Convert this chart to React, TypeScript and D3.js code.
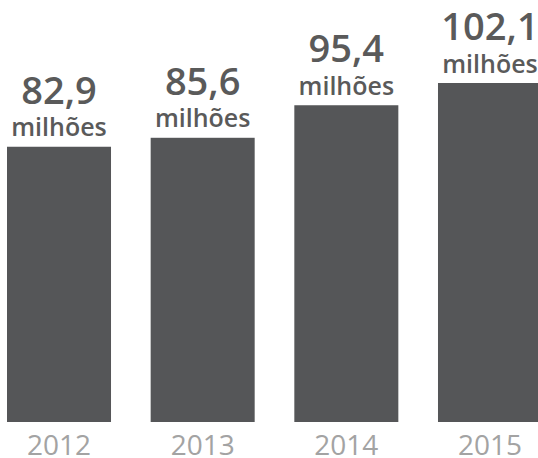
import React from "react";
import * as d3 from "d3";

const years = ["2012", "2013", "2014", "2015"];
const values = [82.9, 85.6, 95.4, 102.1];
const valueLabels = ["82,9", "85,6", "95,4", "102,1"];
const unitLabel = "milhões";

const W = 538;
const H = 458;

export default function App() {
  const x = d3
    .scaleBand<string>()
    .domain(years)
    .range([7, 542])
    .paddingInner(0.276)
    .paddingOuter(0);
  const y = d3.scaleLinear().domain([0, 102.1]).range([422, 83]);
  const font = "'Open Sans', 'Noto Sans', sans-serif";

  return (
    <svg
      width={W}
      height={H}
      style={{ position: "absolute", left: 0, top: 0, background: "#fff" }}
    >
      {years.map((yr, i) => {
        const x0 = x(yr)!;
        const bw = x.bandwidth();
        const cx = x0 + bw / 2;
        const top = y(values[i]);
        return (
          <g key={yr}>
            <rect x={x0} y={top} width={bw} height={y(0) - top} fill="#555658" />
            <text
              x={cx}
              y={top - 43}
              textAnchor="middle"
              fontFamily={font}
              fontWeight={600}
              fontSize={38}
              fill="#5a5a5a"
            >
              {valueLabels[i]}
            </text>
            <text
              x={cx}
              y={top - 10.5}
              textAnchor="middle"
              fontFamily={font}
              fontWeight={600}
              fontSize={25}
              fill="#5a5a5a"
            >
              {unitLabel}
            </text>
            <text
              x={cx}
              y={455}
              textAnchor="middle"
              fontFamily={font}
              fontWeight={400}
              fontSize={28}
              fill="#a3a3a3"
            >
              {yr}
            </text>
          </g>
        );
      })}
    </svg>
  );
}
